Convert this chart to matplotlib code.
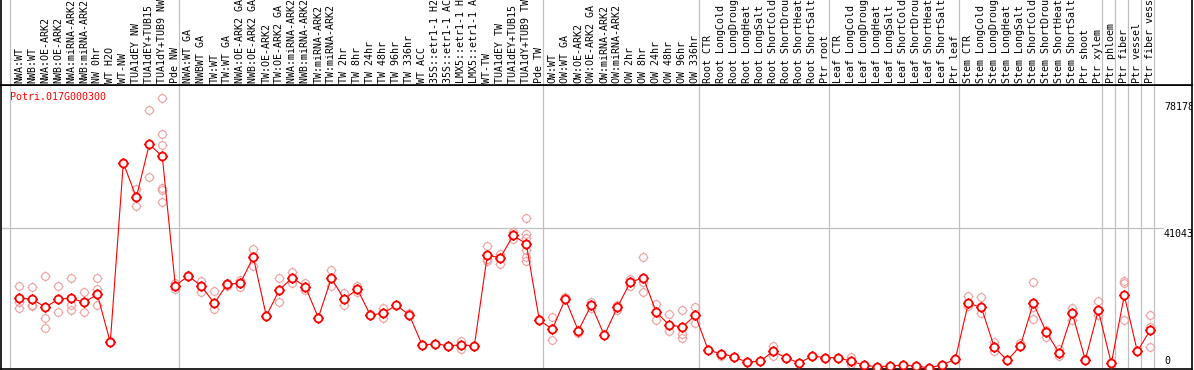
import matplotlib
matplotlib.use("Agg")
import matplotlib.pyplot as plt
from matplotlib.path import Path
import numpy as np

labels = [
    "NWA:WT", "NWB:WT", "NWA:OE-ARK2", "NWB:OE-ARK2", "NWA:miRNA-ARK2", "NWB:miRNA-ARK2",
    "NW 0hr", "WT H2O", "WT-NW", "TUA1dEY NW", "TUA1dEY+TUB15 NW", "TUA1dY+TUB9 NW", "Pde NW",
    "NWA:WT GA", "NWBWT GA", "TW:WT", "TW:WT GA", "NWA:OE-ARK2 GA", "NWB:OE-ARK2 GA",
    "TW:OE-ARK2", "TW:OE-ARK2 GA", "NWA:miRNA-ARK2 GA", "NWB:miRNA-ARK2 GA", "TW:miRNA-ARK2",
    "TW:miRNA-ARK2 GA", "TW 2hr", "TW 8hr", "TW 24hr", "TW 48hr", "TW 96hr", "TW 336hr",
    "WT ACC", "35S::etr1-1 H2O", "35S::etr1-1 ACC", "LMX5::etr1-1 H2O", "LMX5::etr1-1 ACC",
    "WT-TW", "TUA1dEY TW", "TUA1dEY+TUB15 TW", "TUA1dY+TUB9 TW", "Pde TW",
    "OW:WT", "OW:WT GA", "OW:OE-ARK2", "OW:OE-ARK2 GA", "OW:miRNA-ARK2", "OW:miRNA-ARK2 GA",
    "OW 2hr", "OW 8hr", "OW 24hr", "OW 48hr", "OW 96hr", "OW 336hr",
    "Root CTR", "Root LongCold", "Root LongDrought", "Root LongHeat", "Root LongSalt",
    "Root ShortCold", "Root ShortDrought", "Root ShortHeat", "Root ShortSalt", "Ptr root",
    "Leaf CTR", "Leaf LongCold", "Leaf LongDrought", "Leaf LongHeat", "Leaf LongSalt",
    "Leaf ShortCold", "Leaf ShortDrought", "Leaf ShortHeat", "Leaf ShortSalt", "Ptr leaf",
    "Stem CTR", "Stem LongCold", "Stem LongDrought", "Stem LongHeat", "Stem LongSalt",
    "Stem ShortCold", "Stem ShortDrought", "Stem ShortHeat", "Stem ShortSalt", "Ptr shoot",
    "Ptr xylem", "Ptr phloem", "Ptr fiber", "Ptr vessel", "Ptr fiber vessel",
]

group_sizes = [13, 28, 12, 10, 10, 11, 1, 1, 1, 1]

means = [
    20473, 20278, 17841, 20278, 20473, 19303, 21643, 7604, 60054, 50012, 65513, 62004, 24178,
    27005, 24080, 19011, 24665, 24860, 32562, 15306, 22910, 26517, 23885, 14818, 26322, 20180,
    23203, 15598, 16086, 18523, 15598, 6727, 7214, 6532, 6922, 6532, 33049, 32367, 38899,
    36364, 14136,
    11406, 20278, 11016, 18523, 9652, 17841, 25152, 26517, 16378, 12674, 12089, 15501,
    5264, 4290, 3315, 1755, 2145, 4972, 3022, 1560, 3607, 3120,
    3120, 2047, 877, 487, 682, 975, 585, 195, 975, 2730,
    19011, 17841, 6142, 2340, 6532, 19011, 10626, 4387, 16086, 2437, 16963,
    1462, 21350, 4972, 11211,
]

replicates = [
    [24178, 17548, 19500], [23690, 18523, 18230], [27005, 14624, 11796], [24080, 16378],
    [26322, 18523, 17061], [22325, 16378], [26322, 23203, 18523], [8092, 7604], [60054],
    [52450, 47380], [75457, 55862], [78967, 68633, 65221, 52645, 52157, 48550], [25055, 23203],
    [27297], [25542, 22423], [22618, 17451], [25055, 24178], [25835, 23885], [34901, 30027],
    [15306], [26322, 19303], [28272, 24860], [25055, 22910], [14818], [28662, 24080],
    [21935, 18523], [24178, 22228], [15891], [17548, 14818], [18523], [16086], [6727], [7214],
    [6532], [7897, 5654], [6532], [35779, 31879, 31392], [33342, 30417], [39873, 37924],
    [43870, 39288, 38021, 34609, 32659, 31392], [14526],
    [15111, 8287], [20960], [10236], [19498, 17548], [9652], [18523, 17061], [26127, 24080],
    [32464, 25152, 22325], [18718, 14136], [15891, 11016], [17061, 9944, 8969], [17841, 13161],
    [5264], [3705], [3315], [1755], [2145], [6532, 3705], [3022], [1560], [3607], [3120],
    [3120], [3412, 1170], [877], [487], [682], [975], [585], [195], [975], [2730],
    [21155, 18328], [20765, 16086], [7799, 5069], [2340], [7312], [25152, 18036, 14331],
    [11211, 9262], [5752, 3705], [17548, 14136], [2632], [19693, 15598],
    [1462], [25640, 24860, 14136], [4972], [15501, 11991, 6142],
]

gene = "Potri.017G000300"
ytick_values = [78178, 41043, 0]

# ---- figure geometry ----
W, H = 1194, 370
fig = plt.figure(figsize=(W / 100, H / 100), dpi=100)
left_px, right_px = 1, 1192
head_bot = 85
plot_bot = 369

ax = fig.add_axes([left_px / W, (H - plot_bot) / H, (right_px - left_px) / W, (plot_bot - head_bot) / H])
axh = fig.add_axes([left_px / W, (H - head_bot) / H, (right_px - left_px) / W, head_bot / H])

x0 = 6.3  # pixel offset of column 0
step = 13.0
xlim = ((left_px - x0) / step, (right_px - x0) / step)
ax.set_xlim(*xlim)
axh.set_xlim(*xlim)
axh.set_ylim(0, 1)
ax.set_ylim(-196, 82868)

for a in (ax, axh):
    a.set_xticks([])
    a.set_yticks([])
    for s in a.spines.values():
        s.set_color("black")
        s.set_linewidth(1.2)
axh.spines["top"].set_visible(False)

n = len(labels)
xs = np.arange(1, n + 1)

# group separators
bounds = np.concatenate([[0], np.cumsum(group_sizes)])
for b in bounds:
    for a in (ax, axh):
        a.axvline(b + 0.3, color="#c0c0c0", lw=0.9, zorder=0)

# horizontal grid line
ax.hlines(41043, xlim[0], 89.0, color="#c0c0c0", lw=0.9, zorder=0)

# custom marker: circle with 4 small ticks
circ = Path.unit_circle()
ticks = []
for dx, dy in [(0, 1), (0, -1), (1, 0), (-1, 0)]:
    ticks.append(Path([[dx * 1.0, dy * 1.0], [dx * 1.3, dy * 1.3]], [Path.MOVETO, Path.LINETO]))
mk = Path.make_compound_path(circ, *ticks)

rep_color = "#ee9f9f"
for x, reps in zip(xs, replicates):
    ax.plot([x] * len(reps), reps, linestyle="none", marker=mk, markersize=7.2,
            markerfacecolor="none", markeredgecolor=rep_color, markeredgewidth=0.8, zorder=2)

ax.plot(xs, means, color="#ff0000", lw=0.8, zorder=3)
ax.plot(xs, means, linestyle="none", marker=mk, markersize=7.4, markerfacecolor="white",
        markeredgecolor="#ff0000", markeredgewidth=1.3, zorder=4)

mono = "DejaVu Sans Mono"
# header labels
for x, lab in zip(xs, labels):
    axh.text(x, 2.0 / head_bot, lab, rotation=90, ha="center", va="bottom",
             fontsize=7.2, family=mono, color="black", clip_on=True)

# gene name
ax.text((10 - left_px) / (right_px - left_px), (plot_bot - 97) / (plot_bot - head_bot), gene,
        transform=ax.transAxes, ha="left", va="center", fontsize=7.2, family=mono, color="red")

# y labels on the right
ylab_x = (1164 - x0) / step
for v in ytick_values:
    va = "bottom" if v == 0 else "top"
    ax.text(ylab_x, v + (600 if v == 0 else -300), f"{v}", ha="left", va=va, fontsize=7.2,
            family=mono, color="black", clip_on=True, zorder=5)

fig.savefig("out.png", dpi=100)
